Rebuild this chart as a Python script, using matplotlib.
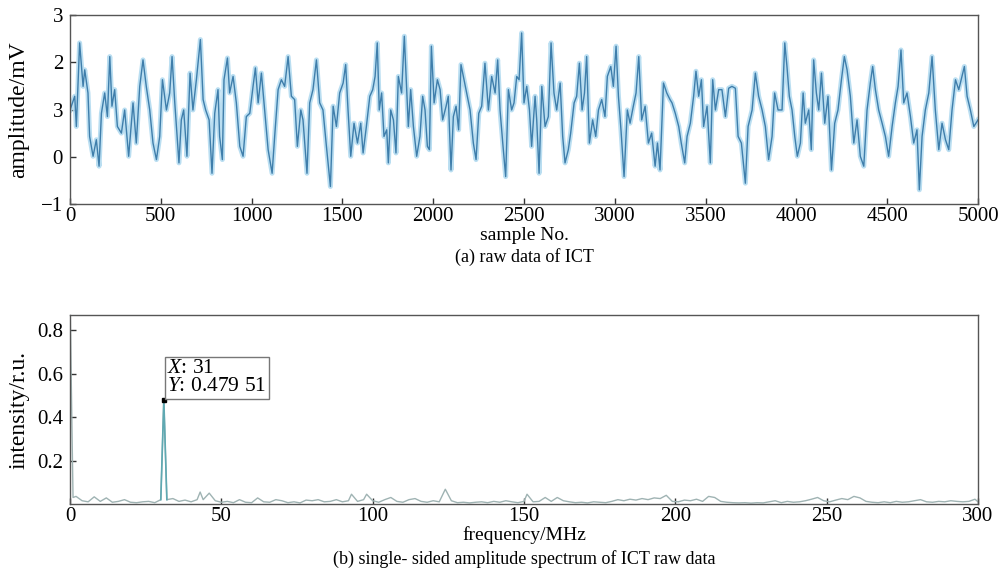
import numpy as np
import matplotlib
matplotlib.use("Agg")
import matplotlib.pyplot as plt

plt.rcParams['font.family'] = ['Liberation Serif', 'DejaVu Serif']
plt.rcParams['mathtext.fontset'] = 'custom'
plt.rcParams['mathtext.rm'] = 'Liberation Serif'
plt.rcParams['mathtext.it'] = 'Liberation Serif:italic'

seg1_samples = [0, 26, 35, 53, 72, 81, 99, 108, 127, 145,
                160, 173, 191, 206, 219, 231, 246, 261, 283, 301,
                323, 347, 365, 384, 402, 420, 439, 457, 476, 494,
                509, 531, 549, 562, 577, 600, 613, 626, 644, 661,
                677, 696, 718, 733, 747, 766, 782, 797, 815, 824,
                839, 848, 867, 879, 898, 916, 935, 953, 971, 990,
                1008, 1021, 1036, 1054, 1072, 1091, 1113, 1127, 1146, 1164,
                1182, 1201, 1219, 1237, 1252, 1271, 1283, 1305, 1320, 1338,
                1357, 1375, 1393, 1412, 1434, 1449, 1467, 1485, 1504, 1518,
                1531, 1546, 1564, 1583, 1601, 1614, 1632, 1651]
seg1_amp = [0.99, 1.28, 0.64, 2.41, 1.49, 1.84, 1.35, 0.43, 0.01, 0.36,
            -0.20, 0.92, 1.35, 0.85, 2.12, 1.07, 1.42, 0.64, 0.50, 0.99,
            0.01, 1.14, 0.29, 1.49, 2.05, 1.49, 0.99, 0.29, -0.06, 0.43,
            1.63, 0.99, 1.35, 2.12, 1.14, -0.13, 0.78, 0.99, 0.01, 1.77,
            0.99, 1.63, 2.48, 1.21, 0.99, 0.78, -0.35, 0.92, 1.42, 0.43,
            -0.06, 1.63, 2.09, 1.35, 1.70, 1.14, 0.22, 0.01, 0.85, 0.92,
            1.49, 1.88, 1.14, 1.77, 0.99, 0.15, -0.35, 0.43, 1.42, 1.63,
            1.49, 2.12, 1.28, 1.21, 0.22, 0.99, 0.78, -0.35, 1.14, 1.42,
            2.05, 1.14, 0.99, 0.22, -0.63, 1.07, 0.64, 1.35, 1.56, 1.95,
            0.99, 0.01, 0.71, 0.29, 0.71, 0.08, 0.64, 1.28]

seg2_samples = [1667, 1680, 1692, 1703, 1716, 1729, 1744, 1753, 1766, 1781,
                1795, 1808, 1826, 1841, 1854, 1863, 1876, 1891, 1909, 1927,
                1942, 1955, 1968, 1979, 1990, 2005, 2023, 2038, 2052, 2071,
                2083, 2098, 2111, 2126, 2140, 2153, 2166, 2184, 2203, 2221,
                2236, 2251, 2267, 2285, 2304, 2322, 2341, 2355, 2368, 2383,
                2399, 2414, 2432, 2445, 2460, 2473, 2487, 2500, 2515, 2530,
                2542, 2561, 2570, 2583, 2598, 2616, 2634, 2649, 2665, 2680,
                2699, 2713, 2726, 2744, 2757, 2776, 2790, 2805, 2820, 2833,
                2845, 2860, 2878, 2895, 2910, 2928, 2946, 2959, 2978, 2992,
                3007, 3020, 3034, 3051, 3069, 3084, 3102, 3117, 3132, 3148,
                3167, 3185, 3203, 3222, 3235, 3249, 3268, 3286, 3304]
seg2_amp = [1.42, 1.70, 2.41, 0.99, 1.35, 0.43, 0.57, -0.13, 0.99, 0.78,
            0.08, 1.70, 1.35, 2.55, 1.42, 0.64, 1.42, 0.64, 0.01, 0.43,
            1.28, 0.99, 0.22, 0.15, 2.34, 1.14, 1.63, 1.42, 0.78, 1.07,
            1.28, -0.28, 0.85, 1.07, 0.57, 1.95, 1.70, 1.35, 0.99, 0.29,
            -0.06, 0.92, 1.07, 1.98, 0.99, 1.70, 1.35, 2.05, 0.99, 0.29,
            -0.42, 1.42, 0.99, 1.14, 1.70, 1.63, 2.62, 1.14, 1.49, 0.99,
            0.22, 1.28, 0.78, -0.35, 1.49, 0.64, 0.85, 2.41, 1.35, 0.99,
            1.56, 0.43, -0.13, 0.15, 0.50, 1.14, 1.28, 1.98, 0.99, 1.35,
            2.12, 0.29, 0.78, 0.43, 0.99, 1.21, 0.85, 1.70, 1.91, 1.49,
            2.34, 1.28, 0.57, -0.42, 0.99, 0.71, 1.07, 1.35, 2.12, 0.78,
            1.07, 0.29, 0.50, -0.20, 0.29, -0.28, 1.56, 1.35, 1.21]

seg3_samples = [3315, 3333, 3352, 3366, 3385, 3398, 3416, 3434, 3447, 3462,
                3477, 3489, 3508, 3526, 3539, 3554, 3572, 3590, 3609, 3627,
                3645, 3664, 3679, 3697, 3719, 3734, 3756, 3774, 3792, 3811,
                3829, 3847, 3866, 3880, 3899, 3921, 3936, 3948, 3961, 3976,
                3991, 4005, 4022, 4037, 4049, 4068, 4082, 4095, 4110, 4123,
                4138, 4156, 4174, 4193, 4211, 4229, 4248, 4264, 4279, 4297,
                4316, 4334, 4352, 4371, 4389, 4407, 4420, 4435, 4453, 4472,
                4490, 4508, 4527, 4545, 4560, 4576, 4591, 4609, 4628, 4646,
                4664, 4677, 4692, 4710, 4729, 4747, 4765, 4784, 4802, 4821,
                4839, 4857, 4876, 4894, 4912, 4925, 4940, 4958, 4977, 5000]
seg3_amp = [1.14, 0.92, 0.64, 0.29, -0.13, 0.43, 0.71, 1.28, 1.81, 1.28,
            1.63, 0.64, 1.07, -0.13, 1.63, 0.99, 1.42, 1.42, 0.85, 1.45,
            1.49, 1.45, 0.43, 0.29, -0.56, 0.64, 0.99, 1.77, 1.28, 0.99,
            0.64, -0.06, 0.43, 1.35, 0.99, 0.99, 2.41, 1.91, 1.28, 0.99,
            0.43, 0.01, 0.29, 1.35, 0.71, 0.99, 0.15, 2.05, 1.35, 0.99,
            1.77, 0.71, 1.28, -0.28, 0.71, 0.99, 1.63, 2.12, 1.84, 1.28,
            0.29, 0.78, 0.01, -0.20, 0.99, 1.56, 1.91, 1.42, 0.99, 0.71,
            0.43, 0.01, 0.64, 1.14, 1.49, 2.26, 1.14, 1.35, 0.85, 0.29,
            0.57, -0.70, 0.43, 0.99, 1.35, 2.12, 0.99, 0.15, 0.71, 0.36,
            0.15, 0.99, 1.63, 1.42, 1.70, 1.91, 1.28, 0.99, 0.64, 0.78]

raw_samples = seg1_samples + seg2_samples + seg3_samples
raw_amp = seg1_amp + seg2_amp + seg3_amp

raw_yticks = [-1, 0, 1, 2, 3]
raw_ytick_labels = ['\u22121', '0', '3', '2', '3']   # as printed in the source

# (b) single-sided amplitude spectrum
spec_freq = [0, 1, 2, 4, 6, 8, 10, 12, 14, 16,
             18, 20, 22, 24, 26, 28, 30, 31, 32, 34,
             36, 38, 40, 42, 43, 44, 46, 48, 50, 52,
             54, 56, 58, 60, 62, 64, 66, 68, 70, 72,
             74, 76, 78, 80, 82, 84, 86, 88, 90, 92,
             93, 95, 97, 98, 100, 102, 104, 106, 108, 110,
             112, 114, 116, 118, 120, 122, 124, 126, 128, 130,
             132, 134, 136, 138, 140, 142, 144, 146, 148, 150,
             151, 153, 155, 157, 159, 161, 163, 165, 167, 169,
             171, 173, 175, 177, 179, 181, 183, 185, 187, 189,
             191, 193, 195, 197, 199, 201, 203, 205, 207, 209,
             211, 213, 215, 217, 219, 221, 223, 225, 227, 229,
             231, 233, 235, 237, 239, 241, 243, 245, 247, 249,
             251, 253, 255, 257, 259, 261, 263, 265, 267, 269,
             271, 273, 275, 277, 279, 281, 283, 285, 287, 289,
             291, 293, 295, 297, 299, 300]
spec_amp = [0.95, 0.03, 0.035, 0.015, 0.01, 0.033, 0.012, 0.028, 0.008, 0.012,
            0.02, 0.008, 0.006, 0.01, 0.012, 0.006, 0.02, 0.47951, 0.02, 0.025,
            0.012, 0.018, 0.01, 0.02, 0.055, 0.02, 0.05, 0.015, 0.008, 0.012,
            0.006, 0.02, 0.008, 0.006, 0.028, 0.01, 0.008, 0.02, 0.015, 0.006,
            0.01, 0.005, 0.018, 0.015, 0.02, 0.01, 0.012, 0.02, 0.01, 0.015,
            0.045, 0.012, 0.02, 0.045, 0.015, 0.008, 0.02, 0.03, 0.012, 0.008,
            0.02, 0.025, 0.012, 0.008, 0.015, 0.01, 0.068, 0.015, 0.006, 0.008,
            0.005, 0.008, 0.01, 0.006, 0.012, 0.008, 0.015, 0.01, 0.006, 0.012,
            0.045, 0.01, 0.012, 0.03, 0.012, 0.03, 0.015, 0.01, 0.006, 0.008,
            0.005, 0.01, 0.008, 0.006, 0.012, 0.02, 0.015, 0.022, 0.018, 0.025,
            0.02, 0.028, 0.025, 0.04, 0.012, 0.01, 0.018, 0.015, 0.022, 0.012,
            0.035, 0.03, 0.012, 0.008, 0.006, 0.005, 0.006, 0.004, 0.006, 0.005,
            0.01, 0.015, 0.006, 0.012, 0.008, 0.01, 0.015, 0.022, 0.03, 0.015,
            0.01, 0.018, 0.025, 0.02, 0.035, 0.028, 0.012, 0.008, 0.006, 0.01,
            0.006, 0.012, 0.008, 0.01, 0.015, 0.02, 0.01, 0.008, 0.012, 0.01,
            0.015, 0.012, 0.01, 0.012, 0.022, 0.01]
peak_freq = 31
peak_amp = 0.47951


def style_axes(ax):
    for s in ax.spines.values():
        s.set_color('#555555')
        s.set_linewidth(1.0)
    ax.tick_params(direction='in', length=4, width=1, colors='#333333',
                   labelcolor='black', labelsize=15, top=False, right=False)
    ax.tick_params(axis='x', pad=2)
    ax.tick_params(axis='y', pad=5)


fig = plt.figure(figsize=(10, 5.84), dpi=100)

# top panel
ax1 = fig.add_axes([0.07, 0.6507, 0.908, 0.3236])
ax1.plot(raw_samples, raw_amp, color='#b3dbf0', lw=3.6, alpha=0.9)
ax1.plot(raw_samples, raw_amp, color='#3f7eab', lw=1.0)
ax1.set_xlim(0, 5000)
ax1.set_ylim(-1, 3)
ax1.set_xticks(np.arange(0, 5001, 500))
ax1.set_yticks(raw_yticks)
ax1.set_yticklabels(raw_ytick_labels)
style_axes(ax1)
fig.text(0.524, 0.5966, 'sample No.', ha='center', va='center', fontsize=14)
fig.text(0.019, 0.8125, 'amplitude/mV', ha='center', va='center',
         rotation=90, fontsize=17)
fig.text(0.524, 0.5600, '(a) raw data of ICT', ha='center', va='center', fontsize=13)

# bottom panel
ax2 = fig.add_axes([0.07, 0.137, 0.908, 0.3236])
ax2.plot(spec_freq, spec_amp, color='#9fb3b3', lw=1.0)
ax2.plot([30, 31, 32], [spec_amp[16], peak_amp, spec_amp[18]], color='#5fa9b2', lw=1.2)
ax2.plot([peak_freq], [peak_amp], marker='s', ms=3.5, color='black', ls='none')
ax2.text(32.1, 0.497, '$X$: 31\n$Y$: 0.479 51', fontsize=15.5, ha='left', va='bottom',
         linespacing=0.9,
         bbox=dict(boxstyle='square,pad=0.12', facecolor='white', edgecolor='#777777', lw=1))
ax2.set_xlim(0, 300)
ax2.set_ylim(0, 0.87)
ax2.set_xticks(np.arange(0, 301, 50))
ax2.set_yticks([0.2, 0.4, 0.6, 0.8])
ax2.set_yticklabels(['0.2', '0.4', '0.6', '0.8'])
style_axes(ax2)
fig.text(0.524, 0.0830, 'frequency/MHz', ha='center', va='center', fontsize=14)
fig.text(0.019, 0.2988, 'intensity/r.u.', ha='center', va='center',
         rotation=90, fontsize=17)
fig.text(0.524, 0.0435, '(b) single- sided amplitude spectrum of ICT raw data',
         ha='center', va='center', fontsize=13)

fig.savefig('out.png', dpi=100)
